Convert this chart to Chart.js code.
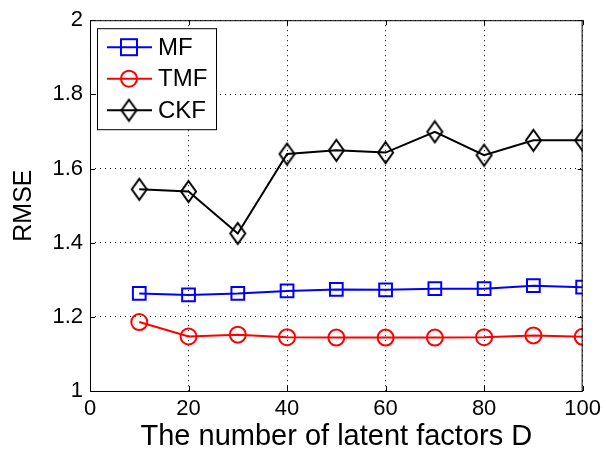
<!DOCTYPE html>
<html>
<head>
  <script src="https://cdn.jsdelivr.net/npm/chart.js"></script>
  <style>
    body { margin: 0; background: #fff; }
    #wrap { width: 606px; height: 451px; }
  </style>
</head>
<body>
  <div id="wrap"><canvas id="rmseChart" width="606" height="451"></canvas></div>
  <script>
    const factors = [10, 20, 30, 40, 50, 60, 70, 80, 90, 100];
    const mf  = [1.263, 1.259, 1.263, 1.270, 1.274, 1.273, 1.276, 1.276, 1.284, 1.280];
    const tmf = [1.186, 1.147, 1.152, 1.145, 1.144, 1.144, 1.144, 1.145, 1.150, 1.146];
    const ckf = [1.544, 1.538, 1.425, 1.639, 1.649, 1.643, 1.699, 1.636, 1.676, 1.676];
    const xTicks = [0, 20, 40, 60, 80, 100];
    const yTicks = [1, 1.2, 1.4, 1.6, 1.8, 2];

    const FONT = '"Liberation Sans", Arial, sans-serif';

    // tall MATLAB-style diamond
    function diamond(w, h, lw) {
      const c = document.createElement('canvas');
      c.width = w + lw * 2; c.height = h + lw * 2;
      const g = c.getContext('2d');
      const cx = c.width / 2, cy = c.height / 2;
      g.strokeStyle = '#000'; g.lineWidth = lw;
      g.beginPath();
      g.moveTo(cx, cy - h / 2); g.lineTo(cx + w / 2, cy);
      g.lineTo(cx, cy + h / 2); g.lineTo(cx - w / 2, cy);
      g.closePath(); g.stroke();
      return c;
    }
    const diamondImg = diamond(15, 21, 2);

    const series = [
      { label: 'MF', values: mf, color: '#0000ff', style: 'rect', radius: 9 },
      { label: 'TMF', values: tmf, color: '#ff0000', style: 'circle', radius: 8 },
      { label: 'CKF', values: ckf, color: '#000000', style: diamondImg, radius: 9 }
    ];

    // box, inward ticks
    const frame = {
      id: 'frame',
      afterDatasetsDraw(chart) {
        const { ctx, chartArea: a, scales } = chart;
        ctx.save();
        ctx.strokeStyle = '#000';
        ctx.lineWidth = 1;
        ctx.strokeRect(a.left + 0.5, a.top + 0.5, a.right - a.left - 1, a.bottom - a.top);
        ctx.beginPath();
        xTicks.forEach(t => {
          const x = Math.round(scales.x.getPixelForValue(t)) + 0.5;
          ctx.moveTo(x, a.bottom); ctx.lineTo(x, a.bottom - 5);
          ctx.moveTo(x, a.top); ctx.lineTo(x, a.top + 5);
        });
        yTicks.forEach(t => {
          const y = Math.round(scales.y.getPixelForValue(t)) + 0.5;
          ctx.moveTo(a.left, y); ctx.lineTo(a.left + 5, y);
          ctx.moveTo(a.right, y); ctx.lineTo(a.right - 5, y);
        });
        ctx.stroke();
        ctx.restore();
      }
    };

    // legend inside the axes, top left
    const boxLegend = {
      id: 'boxLegend',
      afterDraw(chart) {
        const { ctx, chartArea: a } = chart;
        const x0 = a.left + 7, y0 = a.top + 8, w = 119, h = 101;
        ctx.save();
        ctx.fillStyle = '#fff';
        ctx.fillRect(x0, y0, w, h);
        ctx.strokeStyle = '#000';
        ctx.lineWidth = 1;
        ctx.strokeRect(x0 + 0.5, y0 + 0.5, w, h);
        series.forEach((s, i) => {
          const y = y0 + 19 + i * 31.5;
          ctx.strokeStyle = s.color;
          ctx.lineWidth = 2;
          ctx.beginPath();
          ctx.moveTo(x0 + 10, y); ctx.lineTo(x0 + 55, y);
          ctx.stroke();
          const cx = x0 + 32;
          if (s.style === 'rect') {
            ctx.strokeRect(cx - 8, y - 8, 16, 16);
          } else if (s.style === 'circle') {
            ctx.beginPath(); ctx.arc(cx, y, 8, 0, Math.PI * 2); ctx.stroke();
          } else {
            ctx.drawImage(s.style, cx - s.style.width / 2, y - s.style.height / 2);
          }
          ctx.fillStyle = '#000';
          ctx.font = '24px ' + FONT;
          ctx.textBaseline = 'middle';
          ctx.fillText(s.label, x0 + 61, y + 1);
        });
        ctx.restore();
      }
    };

    new Chart(document.getElementById('rmseChart'), {
      type: 'line',
      data: {
        datasets: series.map(s => ({
          label: s.label,
          data: factors.map((f, i) => ({ x: f, y: s.values[i] })),
          borderColor: s.color,
          backgroundColor: 'rgba(0,0,0,0)',
          borderWidth: 2,
          pointStyle: s.style,
          pointRadius: s.radius,
          pointBorderWidth: 2,
          pointBorderColor: s.color,
          pointBackgroundColor: 'rgba(0,0,0,0)',
          tension: 0
        }))
      },
      options: {
        responsive: false,
        animation: false,
        layout: { padding: { top: 17, right: 23, left: 0, bottom: 0 } },
        plugins: { legend: { display: false }, tooltip: { enabled: false } },
        scales: {
          x: {
            type: 'linear', min: 0, max: 100,
            afterBuildTicks: sc => { sc.ticks = xTicks.map(v => ({ value: v })); },
            afterFit: sc => { sc.height = 60; },
            grid: { color: '#000', lineWidth: 1, drawTicks: false },
            border: { display: false, dash: [1, 4] },
            ticks: { color: '#000', font: { family: FONT, size: 22 }, padding: 5, maxRotation: 0,
                     callback: v => String(v) },
            title: { display: true, text: 'The number of latent factors D', color: '#000',
                     font: { family: FONT, size: 29, lineHeight: 1.0 }, padding: { top: 0, bottom: 0 } }
          },
          y: {
            min: 1, max: 2,
            afterBuildTicks: sc => { sc.ticks = yTicks.map(v => ({ value: v })); },
            afterFit: sc => { sc.width = 90; },
            grid: { color: '#000', lineWidth: 1, drawTicks: false },
            border: { display: false, dash: [1, 4] },
            ticks: { color: '#000', font: { family: FONT, size: 22 }, padding: 7,
                     callback: v => String(v) },
            title: { display: true, text: 'RMSE', color: '#000',
                     font: { family: FONT, size: 25 }, padding: { top: 9, bottom: 0 } }
          }
        }
      },
      plugins: [frame, boxLegend]
    });
  </script>
</body>
</html>
